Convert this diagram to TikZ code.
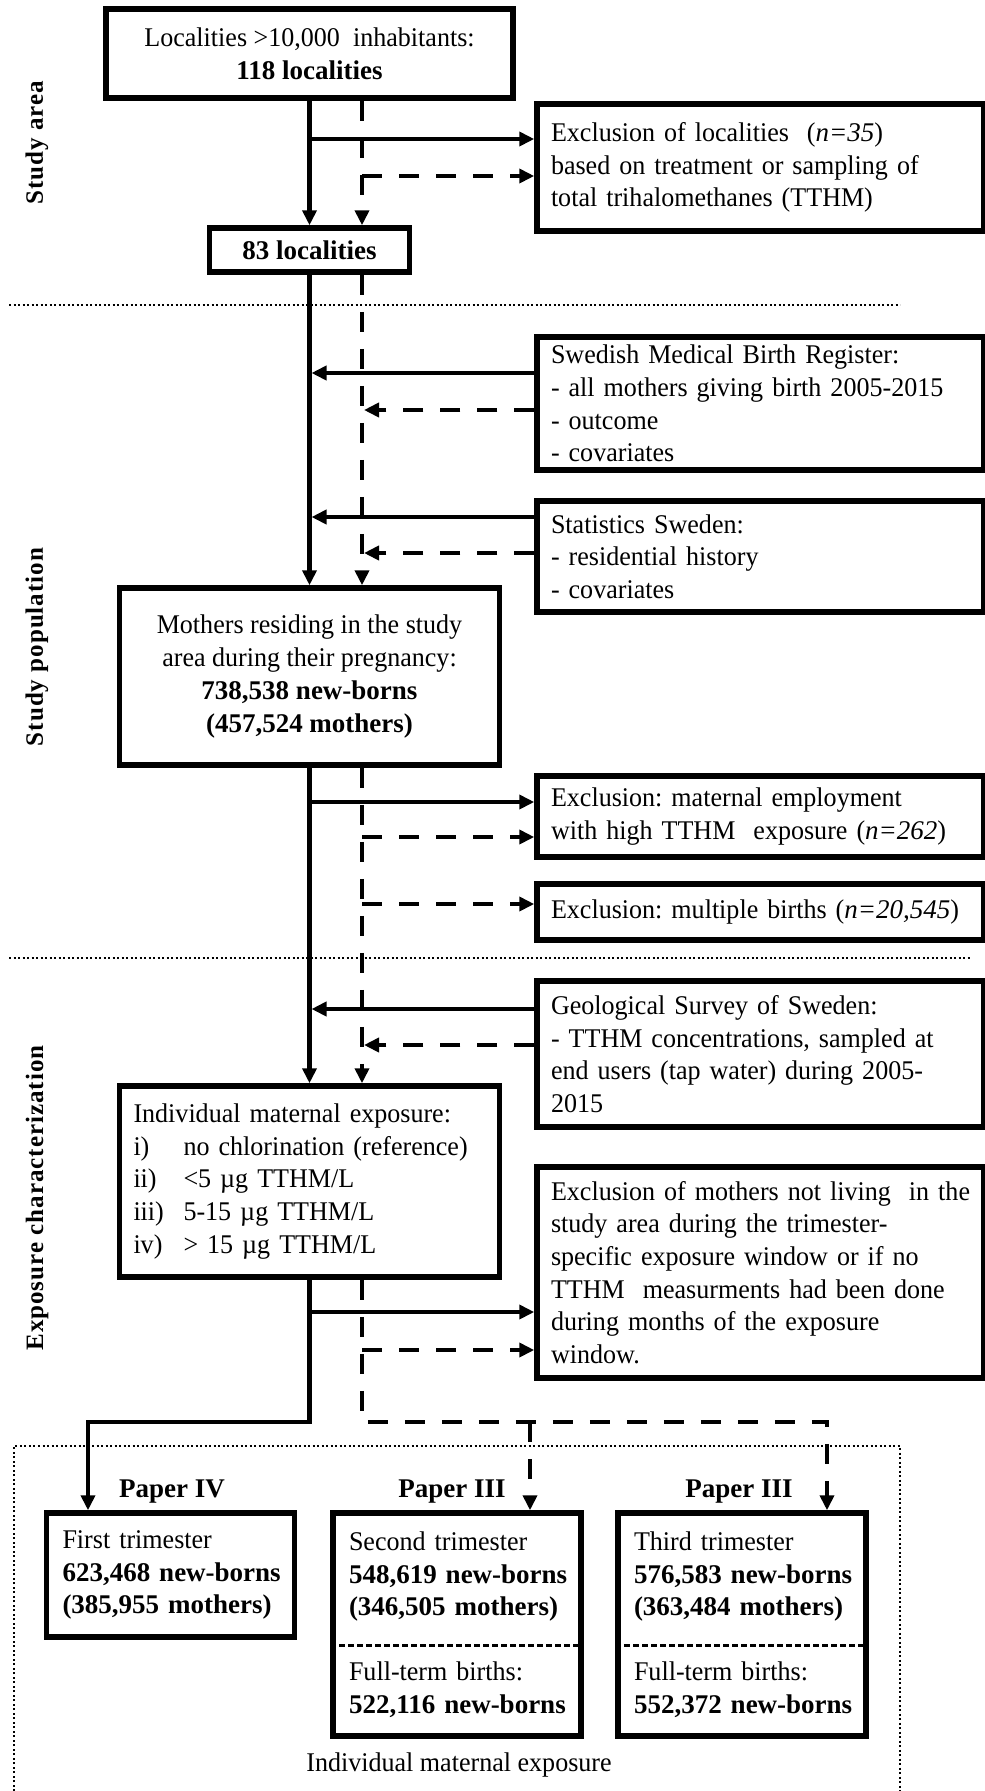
\documentclass[tikz,border=0pt]{standalone}
\usepackage{fontspec}
\setmainfont{Liberation Serif}[UprightFeatures={FakeStretch=0.965}]
\usetikzlibrary{arrows.meta}

\begin{document}
\begin{tikzpicture}
        [x=1pt,y=-1pt,>={Triangle[length=15pt,width=14pt]}]
            \tikzstyle{every node}=[font=\fontsize{27}{32.7}\selectfont\frenchspacing]
            \tikzstyle{box}=[draw, line width=5.5pt, inner sep=0pt]
            \tikzstyle{cbox}=[box, align=center]
            \tikzstyle{rbox}=[box, align=left, text width=419pt, inner xsep=14pt]
            \tikzstyle{ibox}=[box, align=left, text width=352pt, inner xsep=14pt]
            \tikzstyle{tbox}=[box, align=left, text width=216pt, inner xsep=16pt]
            \tikzstyle{sol}=[line width=4.4pt]
            \tikzstyle{dsh}=[line width=4.4pt, dash pattern=on 20pt off 17pt]
            \tikzstyle{dotline}=[line width=2pt, dash pattern=on 2pt off 2.5pt]
            \tikzstyle{sepline}=[line width=3pt, dash pattern=on 6pt off 3pt]
            \tikzstyle{sidelab}=[rotate=90, font=\fontsize{25}{30}\selectfont\bfseries\addfontfeatures{LetterSpace=4}]
            \tikzstyle{paper}=[font=\fontsize{27}{32.7}\selectfont\bfseries]
        \useasboundingbox (0,0) rectangle (985,1791);

        %-----dotted section lines
         \draw[dotline] (9,305) -- (900,305);
         \draw[dotline] (9,958) -- (970,958);
         \draw[dotline] (14,1800) -- (14,1446) -- (900,1446) -- (900,1800);

        %-----side labels
         \node[sidelab] (lab1) at (37,143) {Study area};
         \node[sidelab] (lab2) at (37,647) {Study population};
         \node[sidelab] (lab3) at (37,1198) {Exposure characterization};

        %-----main column
         \node[cbox, minimum width=407pt, minimum height=89pt] (top) at (309.5,53.5) {Localities >10,000\ \ inhabitants:\\ \textbf{118 localities}};
         \node[cbox, minimum width=200pt, minimum height=44pt] (loc83) at (309.5,250) {\textbf{83 localities}};
         \node[cbox, minimum width=380pt, minimum height=177pt] (mothers) at (309.5,676.5) {Mothers residing in the study\\ area during their pregnancy:\\ \textbf{738,538 new-borns}\\ \textbf{(457,524 mothers)}};
         \node[ibox, minimum height=191pt] (indiv) at (309.5,1181.5) {Individual maternal exposure:\\ \makebox[50pt][l]{i)}no chlorination (reference)\\ \makebox[50pt][l]{ii)}<5 µg TTHM/L\\ \makebox[50pt][l]{iii)}5-15 µg TTHM/L\\ \makebox[50pt][l]{iv)}> 15 µg TTHM/L};

        %-----right column
         \node[rbox, minimum height=127pt] (excl35) at (760.5,167.5) {Exclusion of localities\ \ (\textit{n=35})\\ \mbox{based on treatment or sampling of}\\ total trihalomethanes (TTHM)};
         \node[rbox, minimum height=133pt] (smbr) at (760.5,403.5) {Swedish Medical Birth Register:\\ \mbox{- all mothers giving birth 2005-2015}\\ - outcome\\ - covariates};
         \node[rbox, minimum height=111pt] (scb) at (760.5,556.5) {Statistics Sweden:\\ - residential history\\ - covariates};
         \node[rbox, minimum height=81pt] (exclemp) at (760.5,816.5) {\mbox{Exclusion: maternal employment}\\ \mbox{with high TTHM\ \ exposure (\textit{n=262})}};
         \node[rbox, minimum height=56pt] (exclmult) at (760.5,912) {\mbox{Exclusion: multiple births (\textit{n=20,545})}};
         \node[rbox, minimum height=146pt] (sgu) at (760.5,1054) {Geological Survey of Sweden:\\ \mbox{- TTHM concentrations, sampled at}\\ \mbox{end users (tap water) during 2005-}\\ 2015};
         \node[rbox, minimum height=211pt] (exclmon) at (760.5,1272.5) {\mbox{Exclusion of mothers not living\ \ in the}\\ \mbox{study area during the trimester-}\\ \mbox{specific exposure window or if no}\\ \mbox{TTHM\ \ measurments had been done}\\ \mbox{during months of the exposure}\\ window.};

        %-----trimesters
         \node[paper] (pap4) at (172,1492) {Paper IV};
         \node[paper] (pap3a) at (452,1492) {Paper III};
         \node[paper] (pap3b) at (739,1492) {Paper III};
         \node[tbox, minimum height=124pt] (tri1) at (170.5,1575) {First trimester\\ \mbox{\textbf{623,468 new-borns}}\\ \mbox{\textbf{(385,955 mothers)}}};
         \node[tbox, minimum height=223pt] (tri2) at (457,1624.5) {Second trimester\\ \mbox{\textbf{548,619 new-borns}}\\ \mbox{\textbf{(346,505 mothers)}}\\[32pt] Full-term births:\\ \mbox{\textbf{522,116 new-borns}}};
         \node[tbox, minimum height=223pt] (tri3) at (742,1624.5) {Third trimester\\ \mbox{\textbf{576,583 new-borns}}\\ \mbox{\textbf{(363,484 mothers)}}\\[32pt] Full-term births:\\ \mbox{\textbf{552,372 new-borns}}};
         \node (iexp) at (459,1765) {Individual maternal exposure};
         \coordinate (sp) at (0,1645);
         \draw[sepline] (tri2.west |- sp) -- (tri2.east |- sp);
         \draw[sepline] (tri3.west |- sp) -- (tri3.east |- sp);

        %-----connectors
         \coordinate (dcol) at (362,0);
         \coordinate (a1) at (309.5,139);
         \coordinate (a2) at (362,176);
         \coordinate (b1) at (311.5,373);
         \coordinate (b2) at (364,410);
         \coordinate (b3) at (311.5,517);
         \coordinate (b4) at (364,553);
         \coordinate (c1) at (309.5,802);
         \coordinate (c2) at (362,837);
         \coordinate (c3) at (362,904);
         \coordinate (c4) at (311.5,1009);
         \coordinate (c5) at (364,1045);
         \coordinate (e1) at (309.5,1312);
         \coordinate (e2) at (362,1350);
         \coordinate (k1) at (88,1422);
         \coordinate (k2) at (530,1422);
         \coordinate (k3) at (827,1422);

          \draw[sol,->] (top) -- (loc83);
          \draw[sol,->] (loc83) -- (mothers);
          \draw[sol,->] (mothers) -- (indiv);
          \draw[sol,->] (indiv) |- (k1) -- (k1 |- tri1.north);

          \draw[dsh,->] (top.south -| dcol) -- (loc83.north -| dcol);
          \draw[dsh,->] (loc83.south -| dcol) -- (mothers.north -| dcol);
          \draw[dsh,->] (mothers.south -| dcol) -- (indiv.north -| dcol);
          \draw[dsh,->] (indiv.south -| dcol) |- (k3) -- (k3 |- tri3.north);
          \draw[dsh,->] (k2) -- (k2 |- tri2.north);

         \foreach \from/\to in {a1/excl35, c1/exclemp, e1/exclmon}
         \draw[sol,->] (\from) -- (\from -| \to.west);
         \foreach \from/\to in {a2/excl35, c2/exclemp, c3/exclmult, e2/exclmon}
         \draw[dsh,->] (\from) -- (\from -| \to.west);
         \foreach \from/\to in {smbr/b1, scb/b3, sgu/c4}
         \draw[sol,->] (\from.west |- \to) -- (\to);
         \foreach \from/\to in {smbr/b2, scb/b4, sgu/c5}
         \draw[dsh,->] (\from.west |- \to) -- (\to);

        \end{tikzpicture}
\end{document}
